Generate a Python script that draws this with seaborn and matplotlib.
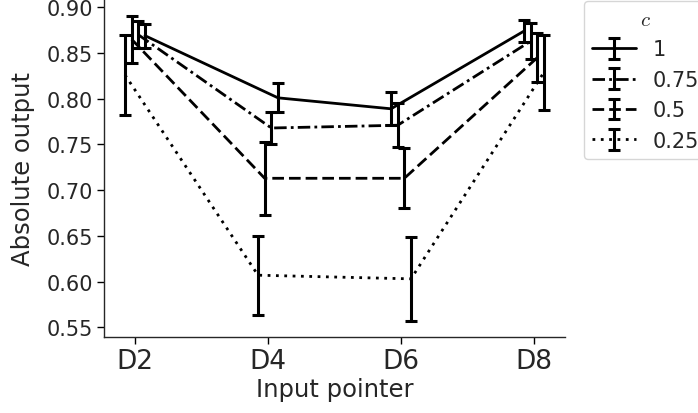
import numpy as np
import pandas as pd
import seaborn as sns
import matplotlib
matplotlib.use("Agg")
import matplotlib.pyplot as plt
from matplotlib.container import ErrorbarContainer
from matplotlib.lines import Line2D
from matplotlib.collections import LineCollection

# ---- data ----
pointers = ["D2", "D4", "D6", "D8"]
c_levels = ["1", "0.75", "0.5", "0.25"]
mean_c1 = [0.869, 0.801, 0.789, 0.874]
mean_c075 = [0.870, 0.768, 0.771, 0.863]
mean_c05 = [0.865, 0.713, 0.713, 0.845]
mean_c025 = [0.826, 0.607, 0.603, 0.829]
err_c1 = [0.013, 0.016, 0.018, 0.012]
err_c075 = [0.015, 0.018, 0.024, 0.020]
err_c05 = [0.026, 0.040, 0.033, 0.027]
err_c025 = [0.044, 0.043, 0.046, 0.041]
y_ticks = [0.55, 0.60, 0.65, 0.70, 0.75, 0.80, 0.85, 0.90]

means = {"1": mean_c1, "0.75": mean_c075, "0.5": mean_c05, "0.25": mean_c025}
errs = {"1": err_c1, "0.75": err_c075, "0.5": err_c05, "0.25": err_c025}

# ---- layout / style ----
dodge_rank = {"0.25": 0, "0.5": 1, "0.75": 2, "1": 3}
dodge_step = 0.05
dodge_dir = [1, 1, -1, -1]
dashes = {"1": "", "0.75": (4.5, 1.5, 1.0, 1.5), "0.5": (4.2, 1.8), "0.25": (1.0, 2.0)}
LW = 2.0
ELW = 2.2
CAP = 4.3

rows = []
for c in c_levels:
    for i, p in enumerate(pointers):
        xpos = i + (dodge_rank[c] - 1.5) * dodge_step * dodge_dir[i]
        m, e = means[c][i], errs[c][i]
        rows.append({"x": xpos, "y": m - e, "c": c})
        rows.append({"x": xpos, "y": m + e, "c": c})
df = pd.DataFrame(rows)

sns.set_style("ticks")
plt.rcParams["mathtext.fontset"] = "cm"

fig = plt.figure(figsize=(6.98, 4.14), dpi=100)
ax = fig.add_axes([104 / 698, 76 / 414, 461 / 698, 338 / 414])

sns.lineplot(
    data=df, x="x", y="y", style="c", style_order=c_levels,
    dashes=dashes, color="black", linewidth=LW,
    estimator="mean", errorbar=lambda v: (v.min(), v.max()),
    err_style="bars",
    err_kws={"capsize": CAP, "elinewidth": ELW, "capthick": ELW},
    legend=False, ax=ax,
)

ax.set_xlim(-0.233, 3.233)
ax.set_ylim(0.5394, 0.9091)
ax.set_xticks(range(len(pointers)))
ax.set_xticklabels(pointers, fontsize=19)
ax.set_yticks(y_ticks)
ax.set_yticklabels([f"{t:.2f}" for t in y_ticks], fontsize=15)
ax.set_xlabel("Input pointer", fontsize=17.5, labelpad=2)
ax.set_ylabel("Absolute output", fontsize=17.5, labelpad=8)
for s in ["left", "bottom"]:
    ax.spines[s].set_linewidth(1.0)
ax.tick_params(width=1.0, length=5, color="black", pad=3)
sns.despine(ax=ax)

# legend with error-bar glyphs
handles = []
for c in c_levels:
    line = Line2D([], [], color="black", linewidth=LW)
    if dashes[c]:
        line.set_dashes(dashes[c])
    cap = Line2D([], [], color="black", marker="_", markersize=2 * CAP,
                 markeredgewidth=ELW, linestyle="none")
    bar = LineCollection([], colors="black", linewidths=ELW)
    handles.append(ErrorbarContainer((line, (cap, cap), (bar,)),
                                     has_xerr=False, has_yerr=True, label=c))
leg = ax.legend(handles=handles, labels=c_levels, title=r"$c$",
                loc="upper left", bbox_to_anchor=(1.041, 0.995),
                borderaxespad=0, fontsize=15, title_fontsize=15,
                handlelength=2.1, frameon=True)

fig.savefig("out.png", dpi=100)
